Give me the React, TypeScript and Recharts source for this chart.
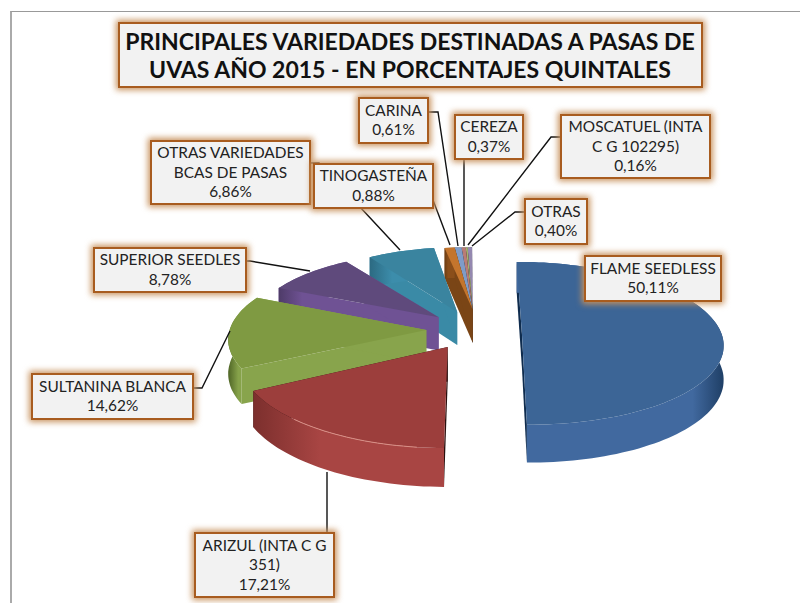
import { PieChart, Pie } from 'recharts';

const categories = [
  'FLAME SEEDLESS',
  'ARIZUL (INTA C G\n351)',
  'SULTANINA BLANCA',
  'SUPERIOR SEEDLES',
  'OTRAS VARIEDADES\nBCAS DE PASAS',
  'TINOGASTEÑA',
  'CARINA',
  'CEREZA',
  'MOSCATUEL (INTA\nC G 102295)',
  'OTRAS',
];
const shares = [50.11, 17.21, 14.62, 8.78, 6.86, 0.88, 0.61, 0.37, 0.16, 0.4];

// top face, cut face, rim dark, rim light
const palette = [
  ['#3c6596', '#0f2c4e', '#1f3f66', '#41699f'],
  ['#9c3e3c', '#2a0f0e', '#7c2f2d', '#a84543'],
  ['#7f9a42', '#88a44c', '#4f6526', '#86a24a'],
  ['#5f4a7c', '#6f5294', '#4e3b68', '#6f5294'],
  ['#3a849f', '#3a8aa6', '#2c6a82', '#3c8dab'],
  ['#c4752d', '#7a4516', '#6a3c12', '#8a4e1a'],
  ['#7f9cc8', '#38485f', '#2c3a50', '#38485f'],
  ['#b97c76', '#4a302e', '#3c2725', '#4a302e'],
  ['#a2b36f', '#454c30', '#383e26', '#454c30'],
  ['#9488b0', '#3c3648', '#2e2a38', '#3c3648'],
];

// how far each slice is pulled out (dx, dy) and how much its radius is squashed (rx, ry)
const SMALL = { dx: 8, dy: -66, rx: 1, ry: 0.9 };
const fits = [
  { dx: 57, dy: 0, rx: 0.98, ry: 1 },
  { dx: -17, dy: 30, rx: 1, ry: 1.08 },
  { dx: -39, dy: -13, rx: 0.97, ry: 1 },
  { dx: -27, dy: -46, rx: 0.925, ry: 0.93 },
  { dx: -8, dy: -60, rx: 0.87, ry: 0.93 },
  SMALL,
  SMALL,
  SMALL,
  SMALL,
  SMALL,
];

const table = categories
  .map((name, i) => ({ name, value: shares[i], colors: palette[i], fit: fits[i], order: i }))
  .reverse(); // back slices first, so the front ones paint over them

const TILT = 0.395;
const PERSP = 2000;
const DEPTH = 34;

function project(cx: number, cy: number, x: number, y: number, drop = 0) {
  const f = 1 / (1 - y / PERSP);
  return [cx + x * f, cy + y * TILT * f + drop * f];
}

const toPoints = (pts: number[][]) =>
  pts.map((p, i) => `${i ? 'L' : 'M'}${p[0].toFixed(1)},${p[1].toFixed(1)}`).join(' ');
const toPath = (pts: number[][]) => toPoints(pts) + ' Z';

function Wedge3D(props: any) {
  const { cx, cy, outerRadius, startAngle, endAngle, payload } = props;
  const { colors, order, fit } = payload;
  const a0 = (90 - endAngle) * (Math.PI / 180);
  const a1 = (90 - startAngle) * (Math.PI / 180);

  const steps = Math.max(2, Math.ceil(Math.abs(a1 - a0) / 0.03));
  const rim: number[][] = [];
  for (let i = 0; i <= steps; i++) {
    const a = a0 + ((a1 - a0) * i) / steps;
    rim.push([fit.dx + Math.sin(a) * outerRadius * fit.rx, fit.dy - Math.cos(a) * outerRadius * fit.ry]);
  }
  const top = rim.map(p => project(cx, cy, p[0], p[1]));
  const low = rim.map(p => project(cx, cy, p[0], p[1], DEPTH));
  const apexT = project(cx, cy, fit.dx, fit.dy);
  const apexB = project(cx, cy, fit.dx, fit.dy, DEPTH);

  const faceA = [apexT, top[0], low[0], apexB];
  const faceB = [apexT, top[steps], low[steps], apexB];
  const strip = [...top, ...[...low].reverse()];
  const gid = `rim-${order}`;

  return (
    <g>
      <defs>
        <linearGradient id={gid} x1="0" y1="0" x2="1" y2="0">
          <stop offset="0%" stopColor={order === 0 ? colors[3] : colors[2]} />
          <stop offset="35%" stopColor={colors[3]} />
          <stop offset="85%" stopColor={colors[3]} />
          <stop offset="100%" stopColor={order === 0 ? colors[2] : colors[3]} />
        </linearGradient>
      </defs>
      <path d={toPath(faceA)} fill={colors[1]} />
      <path d={toPath(faceB)} fill={colors[1]} />
      <path d={toPath(strip)} fill={`url(#${gid})`} />
      <path d={toPath([apexT, ...top])} fill={colors[0]} />
      {order === 1 && (
        <path
          d={toPoints(top.slice(Math.round(steps * 0.1), Math.round(steps * 0.7)))}
          fill="none"
          stroke="#d98f86"
          strokeWidth={1}
        />
      )}
    </g>
  );
}

// label boxes: x, y, w, h and leader polyline, in category order
const boxes = [
  { x: 585, y: 256, w: 136, h: 45, leader: [] as number[][] },
  { x: 195, y: 533, w: 139, h: 64, leader: [[327, 533], [327, 472]] },
  { x: 32, y: 374, w: 161, h: 45, leader: [[193, 388], [202, 388], [230, 331]] },
  { x: 94, y: 248, w: 152, h: 44, leader: [[246, 261], [250, 261], [310, 271]] },
  { x: 151, y: 141, w: 159, h: 63, leader: [[309, 163], [319, 163], [400, 250]] },
  { x: 314, y: 164, w: 119, h: 44, leader: [[433, 200], [450, 245]] },
  { x: 359, y: 98, w: 69, h: 45, leader: [[428, 112], [438, 112], [458, 246]] },
  { x: 455, y: 115, w: 68, h: 44, leader: [[464, 159], [464, 246]] },
  { x: 561, y: 115, w: 149, h: 63, leader: [[560, 137], [551, 137], [468, 245]] },
  { x: 525, y: 199, w: 62, h: 45, leader: [[525, 212], [515, 212], [472, 246]] },
];

const LABEL_FONT = 'Lato, sans-serif';

function Box({ x, y, w, h }: { x: number; y: number; w: number; h: number }) {
  return (
    <g>
      <rect x={x - 3} y={y - 3} width={w + 6} height={h + 6} fill="#c8935f" style={{ filter: 'blur(3px)' }} />
      <rect x={x} y={y} width={w} height={h} fill="#f2f2f2" stroke="#a85c1f" strokeWidth={2} />
    </g>
  );
}

function Callouts() {
  return (
    <g>
      {boxes.map((b, i) => (
        <polyline key={i} points={b.leader.join(' ')} fill="none" stroke="#111" strokeWidth={1.4} />
      ))}
      {boxes.map((b, i) => {
        const lines = [...categories[i].split('\n'), shares[i].toFixed(2).replace('.', ',') + '%'];
        const cx = b.x + b.w / 2;
        const first = b.y + b.h / 2 - ((lines.length - 1) * 19.5) / 2 + 5;
        return (
          <g key={i}>
            <Box {...b} />
            <text textAnchor="middle" fontFamily={LABEL_FONT} fontSize={15.4} fill="#222">
              {lines.map((l, j) => (
                <tspan key={j} x={cx} y={first + j * 19.5}>
                  {l}
                </tspan>
              ))}
            </text>
          </g>
        );
      })}
      <Box x={119} y={23} w={583} h={64} />
      <text textAnchor="middle" fontFamily={LABEL_FONT} fontWeight={700} fontSize={23} fill="#111">
        <tspan x={410} y={50}>PRINCIPALES VARIEDADES DESTINADAS A PASAS DE</tspan>
        <tspan x={410} y={78}>UVAS AÑO 2015 - EN PORCENTAJES QUINTALES</tspan>
      </text>
    </g>
  );
}

// the label layer paints over the slices, so all callouts go in once through the first entry
const renderCallouts = ({ index }: { index: number }) => (index === 0 ? <Callouts /> : <g />);

export default function App() {
  return (
    <div style={{ position: 'absolute', left: 0, top: 0, width: 800, height: 603, overflow: 'hidden', background: '#fff' }}>
      <div style={{ position: 'absolute', left: 10, top: 11, right: 0, bottom: 0, borderTop: '1px solid #999', borderLeft: '2px solid #aaa' }} />
      <PieChart width={800} height={603} style={{ position: 'absolute', left: 0, top: 0 }} margin={{ top: 0, right: 0, bottom: 0, left: 0 }}>
        <Pie
          data={table}
          dataKey="value"
          nameKey="name"
          cx={465}
          cy={335}
          outerRadius={204}
          startAngle={90}
          endAngle={450}
          stroke="none"
          isAnimationActive={false}
          shape={Wedge3D}
          inactiveShape={Wedge3D}
          label={renderCallouts}
          labelLine={false}
        />
      </PieChart>
    </div>
  );
}
